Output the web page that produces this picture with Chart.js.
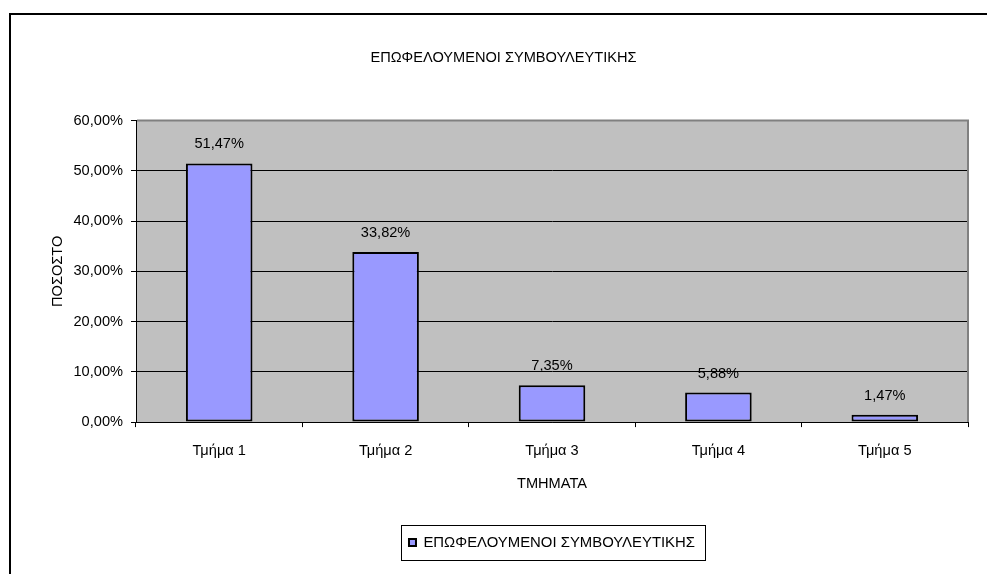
<!DOCTYPE html>
<html lang="el">
<head>
  <meta charset="UTF-8">
  <title>ΕΠΩΦΕΛΟΥΜΕΝΟΙ ΣΥΜΒΟΥΛΕΥΤΙΚΗΣ</title>
  <script src="https://cdn.jsdelivr.net/npm/chart.js"></script>
  <style>
    html, body { margin: 0; padding: 0; background: #fff; overflow: hidden; }
    .frame { position: absolute; left: 9px; top: 13px; width: 1200px; height: 800px; border-top: 2px solid #000; border-left: 2px solid #000; }
    canvas { position: absolute; left: 0; top: 0; }
  </style>
</head>
<body>
  <div class="frame"></div>
  <canvas id="chart" width="987" height="574"></canvas>
  <script>
    const categories = ['Τμήμα 1', 'Τμήμα 2', 'Τμήμα 3', 'Τμήμα 4', 'Τμήμα 5'];
    const values = [51.47, 33.82, 7.35, 5.88, 1.47];
    const seriesName = 'ΕΠΩΦΕΛΟΥΜΕΝΟΙ ΣΥΜΒΟΥΛΕΥΤΙΚΗΣ';
    const yTicks = [0, 10, 20, 30, 40, 50, 60];

    const family = '"Liberation Sans", Arial, sans-serif';
    const font = { family: family, size: 14.6 };
    const legendFont = { family: family, size: 14.9 };
    const pct = v => v.toFixed(2).replace('.', ',') + '%';

    // gray plot background + gray top/right frame
    const plotArea = {
      id: 'plotArea',
      beforeDraw(chart) {
        const { ctx, chartArea: a } = chart;
        ctx.save();
        ctx.fillStyle = '#C0C0C0';
        ctx.fillRect(a.left, a.top, a.right - a.left, a.bottom - a.top);
        ctx.restore();
      },
      afterDatasetsDraw(chart) {
        const { ctx, chartArea: a } = chart;
        ctx.save();
        ctx.strokeStyle = '#808080';
        ctx.lineWidth = 2;
        ctx.beginPath();
        ctx.moveTo(a.left + 1, a.top);
        ctx.lineTo(a.right, a.top);
        ctx.lineTo(a.right, a.bottom);
        ctx.stroke();
        ctx.restore();
      }
    };

    // value labels above the bars
    const barLabels = {
      id: 'barLabels',
      afterDatasetsDraw(chart) {
        const { ctx } = chart;
        ctx.save();
        ctx.font = font.size + 'px ' + font.family;
        ctx.fillStyle = '#000';
        ctx.textAlign = 'center';
        ctx.textBaseline = 'middle';
        chart.getDatasetMeta(0).data.forEach((bar, i) => {
          ctx.fillText(pct(values[i]), bar.x, bar.y - 19);
        });
        ctx.restore();
      }
    };

    // box around the legend
    const legendBox = {
      id: 'legendBox',
      afterDraw(chart) {
        const hb = chart.legend.legendHitBoxes[0];
        if (!hb) return;
        const { ctx } = chart;
        const cy = hb.top + hb.height / 2;
        ctx.save();
        ctx.strokeStyle = '#000';
        ctx.lineWidth = 1;
        ctx.strokeRect(Math.round(hb.left) - 7.5, Math.round(cy) - 17.5, Math.round(hb.width) + 18, 35);
        ctx.restore();
      }
    };

    new Chart(document.getElementById('chart'), {
      type: 'bar',
      data: {
        labels: categories,
        datasets: [{
          label: seriesName,
          data: values,
          backgroundColor: '#9999FF',
          borderColor: '#000',
          borderWidth: 2,
          borderSkipped: false,
          barPercentage: 0.4,
          categoryPercentage: 1
        }]
      },
      options: {
        responsive: false,
        animation: false,
        layout: { padding: { left: 39, right: 19, top: 0, bottom: 14 } },
        plugins: {
          title: {
            display: true,
            text: seriesName,
            color: '#000',
            font: { ...font, weight: 'normal' },
            padding: { top: 49, bottom: 54 }
          },
          legend: {
            position: 'bottom',
            fullSize: false,
            labels: {
              color: '#000',
              font: legendFont,
              boxWidth: 7,
              boxHeight: 7,
              padding: 10
            }
          },
          tooltip: { enabled: false }
        },
        scales: {
          x: {
            grid: { drawOnChartArea: false, drawTicks: true, tickLength: 5, color: '#000' },
            border: { display: true, color: '#000', width: 1 },
            ticks: { color: '#000', font: font, padding: 15 },
            title: { display: true, text: 'ΤΜΗΜΑΤΑ', color: '#000', font: font, padding: { top: 0, bottom: 32 } },
            afterFit(scale) { scale.height = 103; }
          },
          y: {
            min: 0,
            max: 60,
            afterBuildTicks(scale) { scale.ticks = yTicks.map(v => ({ value: v })); },
            grid: { color: '#000', tickLength: 5 },
            border: { display: true, color: '#000', width: 1 },
            ticks: { color: '#000', font: font, padding: 8, callback: v => pct(v) },
            title: { display: true, text: 'ΠΟΣΟΣΤΟ', color: '#000', font: font, padding: { top: 10, bottom: 0 } },
            afterFit(scale) { scale.width = 97; }
          }
        }
      },
      plugins: [plotArea, barLabels, legendBox]
    });
  </script>
</body>
</html>
